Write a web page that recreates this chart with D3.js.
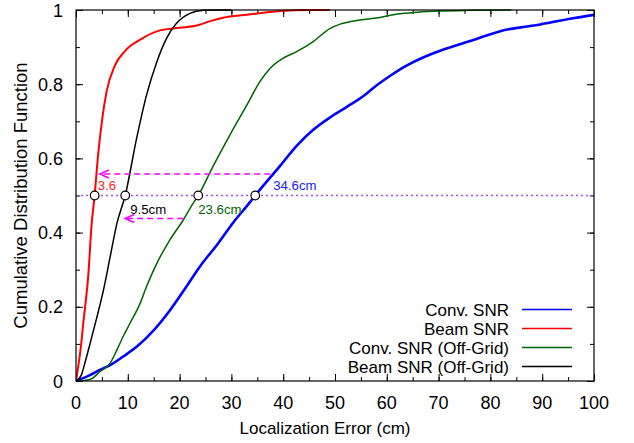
<!DOCTYPE html>
<html>
<head>
<meta charset="utf-8">
<script src="https://cdn.jsdelivr.net/npm/d3@7"></script>
<style>
  body { margin: 0; background: #fff; }
  svg { display: block; font-family: 'Liberation Sans', Arial, Helvetica, sans-serif; }
</style>
</head>
<body>
<div id="chart"></div>
<script>
// === DATA ===
const seriesNames = ['Conv. SNR', 'Beam SNR', 'Conv. SNR (Off-Grid)', 'Beam SNR (Off-Grid)'];

const convX = [0, 2.7, 4.6, 6.6, 9.1, 11.7, 14.9, 18, 21, 24, 27.5, 30.4, 33.6, 34.6, 39.4, 42.6, 45.8, 49, 52.3, 55.5, 57.4, 60.6, 63.8, 67, 70.3, 76.7, 81.9, 89.6, 96, 100];
const convY = [0, 0.016, 0.03, 0.043, 0.066, 0.092, 0.135, 0.188, 0.248, 0.31, 0.372, 0.428, 0.482, 0.5, 0.58, 0.634, 0.677, 0.71, 0.739, 0.768, 0.79, 0.822, 0.85, 0.872, 0.89, 0.919, 0.943, 0.961, 0.978, 0.987];

const beamX = [0, 1, 1.4, 2.4, 3, 3.6, 4.2, 5, 5.9, 7.5, 9.5, 12.4, 16.2, 20, 23.3, 25.9, 28.4, 33, 39.4, 45, 49];
const beamY = [0, 0.1, 0.155, 0.29, 0.42, 0.5, 0.6, 0.7, 0.78, 0.85, 0.89, 0.92, 0.945, 0.952, 0.958, 0.97, 0.979, 0.987, 0.997, 1, 1];

const convOffX = [1, 3, 4.6, 6.6, 7.9, 9.1, 10.4, 12.4, 13.6, 15.6, 18.1, 20.7, 22.6, 23.6, 26.5, 29.7, 33, 35.5, 37.5, 40, 42.6, 45.8, 49, 51, 54.8, 58.7, 62, 66, 70, 76, 84];
const convOffY = [0, 0.006, 0.025, 0.048, 0.084, 0.12, 0.155, 0.21, 0.254, 0.317, 0.38, 0.434, 0.479, 0.5, 0.58, 0.663, 0.744, 0.807, 0.843, 0.87, 0.888, 0.915, 0.95, 0.962, 0.973, 0.98, 0.989, 0.994, 0.997, 0.999, 1];

const beamOffX = [0, 1, 1.7, 2.7, 4, 5.3, 6.6, 7.9, 9.5, 11.7, 13.6, 15.6, 17.5, 19.4, 22, 24.6, 27, 30];
const beamOffY = [0, 0.015, 0.048, 0.1, 0.17, 0.245, 0.335, 0.425, 0.5, 0.654, 0.77, 0.86, 0.924, 0.964, 0.991, 0.999, 1, 1];

// medians marked on the 0.5 line
const medianValues = [3.6, 9.5, 23.6, 34.6];
const medianLabels = ['3.6', '9.5cm', '23.6cm', '34.6cm'];

// dashed arrows: start x, end x, level
const arrowFrom = [37.5, 20.7];
const arrowTo = [4.6, 9.5];
const arrowLevel = [0.558, 0.438];

const xTicks = [0, 10, 20, 30, 40, 50, 60, 70, 80, 90, 100];
const yTicks = [0, 0.2, 0.4, 0.6, 0.8, 1];

// === LAYOUT ===
const W = 634, H = 443;
const margin = { top: 10, right: 40, bottom: 62, left: 76 };
const width = W - margin.left - margin.right;
const height = H - margin.top - margin.bottom;

const svg = d3.select('#chart').append('svg').attr('width', W).attr('height', H);
const g = svg.append('g').attr('transform', `translate(${margin.left},${margin.top})`);

const xScale = d3.scaleLinear().domain([0, 100]).range([0, width]);
const yScale = d3.scaleLinear().domain([0, 1]).range([height, 0]);

const colors = ['#0000ff', '#ff0000', '#006400', '#000000'];
const widths = [2.6, 2, 1.5, 1.5];
const series = [
    { xs: convX, ys: convY },
    { xs: beamX, ys: beamY },
    { xs: convOffX, ys: convOffY },
    { xs: beamOffX, ys: beamOffY }
].map((s, i) => ({ name: seriesNames[i], values: s.xs.map((x, j) => ({ x, y: s.ys[j] })) }));

// === AXES (ticks inside, mirrored on top/right) ===
const minorX = d3.range(0, 101, 5);
const minorY = d3.range(0, 1.001, 0.1);

function tickAxis(axis, scale, vals, len) {
    return axis(scale).tickValues(vals).tickSize(len).tickFormat('');
}

g.append('g').attr('transform', `translate(0,${height})`)
    .call(tickAxis(d3.axisTop, xScale, minorX, 4));
g.append('g').call(tickAxis(d3.axisBottom, xScale, minorX, 4));
g.append('g').call(tickAxis(d3.axisRight, yScale, minorY, 4));
g.append('g').attr('transform', `translate(${width},0)`)
    .call(tickAxis(d3.axisLeft, yScale, minorY, 4));

g.append('g').attr('transform', `translate(0,${height})`)
    .call(tickAxis(d3.axisTop, xScale, xTicks, 7));
g.append('g').call(tickAxis(d3.axisBottom, xScale, xTicks, 7));
g.append('g').call(tickAxis(d3.axisRight, yScale, yTicks, 7));
g.append('g').attr('transform', `translate(${width},0)`)
    .call(tickAxis(d3.axisLeft, yScale, yTicks, 7));

g.selectAll('.domain').remove();
g.selectAll('.tick line').attr('stroke', '#000').attr('stroke-width', 1);

// tick labels
g.append('g').selectAll('text').data(xTicks).join('text')
    .attr('x', d => xScale(d)).attr('y', height + 28)
    .attr('text-anchor', 'middle').attr('font-size', '18px').attr('fill', '#000')
    .text(d => d);

g.append('g').selectAll('text').data(yTicks).join('text')
    .attr('x', -13).attr('y', d => yScale(d) + 6.5)
    .attr('text-anchor', 'end').attr('font-size', '18px').attr('fill', '#000')
    .text(d => d);

// axis titles
svg.append('text')
    .attr('x', margin.left + width / 2 - 10).attr('y', 434)
    .attr('text-anchor', 'middle').attr('font-size', '17px')
    .text('Localization Error (cm)');

svg.append('text')
    .attr('transform', 'rotate(-90)')
    .attr('x', -(margin.top + height / 2)).attr('y', 27)
    .attr('text-anchor', 'middle').attr('font-size', '18.5px')
    .text('Cumulative Distribution Function');

// === LINES ===
svg.append('clipPath').attr('id', 'plot-clip')
    .append('rect').attr('x', 0).attr('y', -2).attr('width', width).attr('height', height + 2);

const line = d3.line()
    .curve(d3.curveMonotoneX)
    .x(d => xScale(d.x))
    .y(d => yScale(d.y));

const plot = g.append('g').attr('clip-path', 'url(#plot-clip)');

series.forEach((s, i) => {
    plot.append('path')
        .datum(s.values)
        .attr('fill', 'none')
        .attr('stroke', colors[i])
        .attr('stroke-width', widths[i])
        .attr('stroke-linejoin', 'round')
        .attr('d', line);
});

// median line
plot.append('line')
    .attr('x1', 0).attr('x2', width)
    .attr('y1', yScale(0.5)).attr('y2', yScale(0.5))
    .attr('stroke', '#a050e0').attr('stroke-width', 1.5)
    .attr('stroke-dasharray', '2,3');

// dashed arrows
arrowFrom.forEach((x0, i) => {
    const y = yScale(arrowLevel[i]);
    const xt = xScale(arrowTo[i]);
    g.append('line')
        .attr('x1', xScale(x0)).attr('x2', xt)
        .attr('y1', y).attr('y2', y)
        .attr('stroke', '#ff00ff').attr('stroke-width', 1.6)
        .attr('stroke-dasharray', '6,4');
    g.append('path')
        .attr('d', `M${xt + 9},${y - 4}L${xt},${y}L${xt + 9},${y + 4}`)
        .attr('fill', 'none').attr('stroke', '#ff00ff').attr('stroke-width', 1.6);
});

// median markers
g.selectAll('circle.median').data(medianValues).join('circle')
    .attr('class', 'median')
    .attr('cx', d => xScale(d)).attr('cy', yScale(0.5)).attr('r', 4.3)
    .attr('fill', '#fff').attr('stroke', '#000').attr('stroke-width', 1.2);

// labels: colour follows the curve each median belongs to
const labelColors = ['#ff2020', '#000000', '#006400', '#2020ff'];
const labelDx = [3, 5, 0, 18];
const labelDy = [-6, 18, 18, -6];
medianValues.forEach((v, i) => {
    g.append('text')
        .attr('x', xScale(v) + labelDx[i]).attr('y', yScale(0.5) + labelDy[i])
        .attr('font-size', '13.2px').attr('fill', labelColors[i])
        .text(medianLabels[i]);
});

// frame
g.append('rect')
    .attr('width', width).attr('height', height)
    .attr('fill', 'none').attr('stroke', '#000').attr('stroke-width', 1.2);

// === LEGEND ===
const legend = svg.append('g');
series.forEach((s, i) => {
    const y = 309.5 + i * 19;
    legend.append('text')
        .attr('x', 509).attr('y', y + 6)
        .attr('text-anchor', 'end').attr('font-size', '17px')
        .text(s.name);
    legend.append('line')
        .attr('x1', 522).attr('x2', 572).attr('y1', y).attr('y2', y)
        .attr('stroke', colors[i]).attr('stroke-width', 1.6);
});
</script>
</body>
</html>
